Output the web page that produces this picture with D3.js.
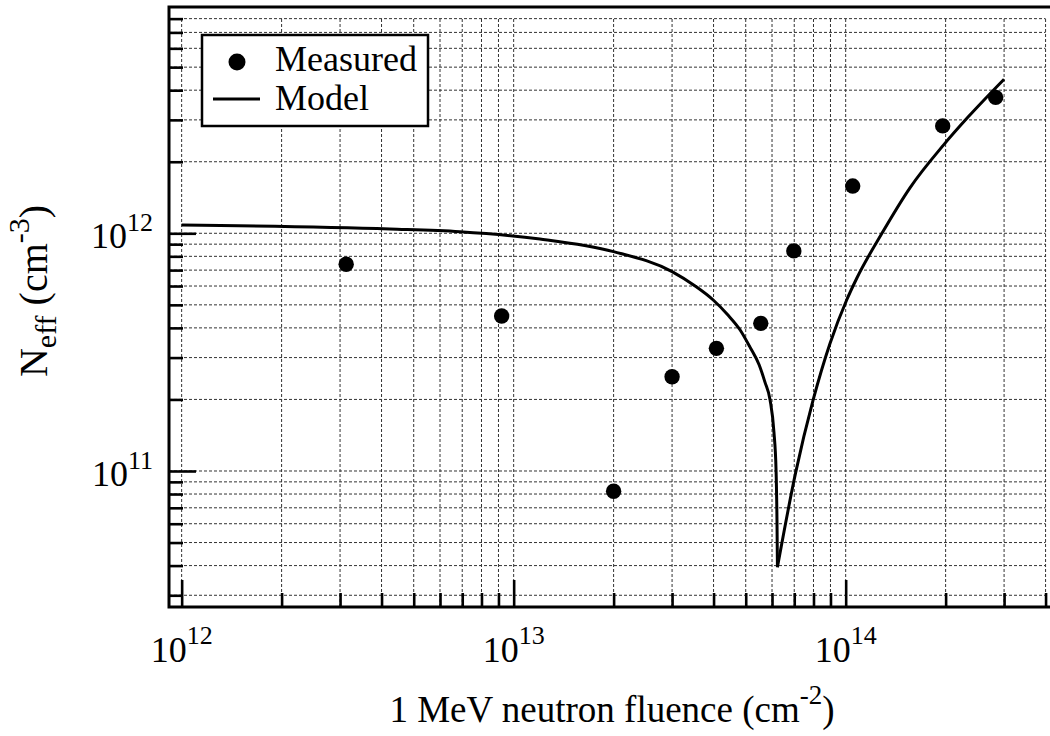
<!DOCTYPE html>
<html>
<head>
<meta charset="utf-8">
<script src="https://cdn.jsdelivr.net/npm/d3@7"></script>
<style>
  body { margin: 0; background: #fff; }
  text { font-family: "Liberation Serif", "DejaVu Serif", serif; fill: #000; }
</style>
</head>
<body>
<div id="content"></div>
<script>
'use strict';
//////////////////// input data
const measuredFluence = [3.13e12, 9.2e12, 2.0e13, 3.0e13, 4.08e13, 5.55e13, 6.98e13, 1.05e14, 1.96e14, 2.83e14];
const measuredNeff    = [7.41e11, 4.49e11, 8.22e10, 2.49e11, 3.28e11, 4.18e11, 8.43e11, 1.58e12, 2.83e12, 3.73e12];

const modelFluence = [1.0e12, 4.24e12, 6.88e12, 1.2e13, 2.0e13, 3.0e13, 3.52e13, 3.99e13, 4.42e13, 4.81e13,
                      5.15e13, 5.49e13, 5.71e13, 5.92e13, 6.08e13, 6.17e13, 6.21e13, 6.23e13,
                      7.06e13, 7.98e13, 8.97e13, 1.007e14, 1.08e14, 1.286e14, 1.56e14, 1.97e14, 2.34e14, 3.0e14];
const modelNeff    = [1.083e12, 1.042e12, 1.015e12, 9.46e11, 8.37e11, 6.9e11, 6.0e11, 5.24e11, 4.53e11, 3.92e11,
                      3.32e11, 2.79e11, 2.37e11, 1.99e11, 1.46e11, 1.01e11, 6.22e10, 3.94e10,
                      9.77e10, 1.99e11, 3.44e11, 5.24e11, 6.47e11, 1.0e12, 1.55e12, 2.35e12, 3.09e12, 4.45e12];

const xDomain = [9.16e11, 4.125e14];
const yDomain = [2.678e10, 8.954e12];
const xMajor = [1e12, 1e13, 1e14];
const yMajor = [1e11, 1e12];
const legendLabels = ['Measured', 'Model'];

const measured = measuredFluence.map((f, i) => ({x: f, y: measuredNeff[i]}));
const model = modelFluence.map((f, i) => ({x: f, y: modelNeff[i]}));
const minIdx = d3.minIndex(modelNeff);

//////////////////// drawing area
const W = 1050, H = 736;
const plot = { left: 169, right: 1050, top: 7, bottom: 607 };

const xScale = d3.scaleLog().domain(xDomain).range([plot.left, plot.right]);
const yScale = d3.scaleLog().domain(yDomain).range([plot.bottom, plot.top]);

const xTicks = xScale.ticks();
const yTicks = yScale.ticks();
const xMinor = xTicks.filter(t => !xMajor.includes(t));
const yMinor = yTicks.filter(t => !yMajor.includes(t));
const exp = v => Math.round(Math.log10(v));

const svg = d3.select('#content')
    .append('svg')
        .attr('width', W)
        .attr('height', H);

svg.append('rect').attr('width', W).attr('height', H).attr('fill', '#fff');

//////////////////// grid
const gridRight = xScale(d3.max(xTicks));
const gridTop = yScale(d3.max(yTicks));

svg.append('g')
    .selectAll('line')
    .data(xTicks)
    .enter().append('line')
        .attr('x1', d => xScale(d)).attr('x2', d => xScale(d))
        .attr('y1', plot.bottom).attr('y2', gridTop)
        .attr('stroke', '#333').attr('stroke-width', 1).attr('stroke-dasharray', '3,2');

svg.append('g')
    .selectAll('line')
    .data(yTicks)
    .enter().append('line')
        .attr('x1', plot.left).attr('x2', gridRight)
        .attr('y1', d => yScale(d)).attr('y2', d => yScale(d))
        .attr('stroke', '#333').attr('stroke-width', 1).attr('stroke-dasharray', '3,2');

//////////////////// ticks (inward)
function tickAxis(axis, values, size, tr) {
    const g = svg.append('g')
        .attr('transform', tr)
        .call(axis.tickValues(values).tickSize(-size).tickFormat(''));
    g.select('.domain').remove();
    g.selectAll('line').attr('stroke', '#000').attr('stroke-width', 2.6);
}
tickAxis(d3.axisBottom(xScale), xMinor, 14, 'translate(0,' + plot.bottom + ')');
tickAxis(d3.axisBottom(xScale), xMajor, 27, 'translate(0,' + plot.bottom + ')');
tickAxis(d3.axisLeft(yScale), yMinor, 14, 'translate(' + plot.left + ',0)');
tickAxis(d3.axisLeft(yScale), yMajor, 27, 'translate(' + plot.left + ',0)');

// frame
svg.append('path')
    .attr('d', 'M' + plot.right + ',' + plot.top + 'H' + plot.left + 'V' + plot.bottom + 'H' + plot.right)
    .attr('fill', 'none').attr('stroke', '#000').attr('stroke-width', 3);

//////////////////// tick labels
const xLab = svg.append('g').selectAll('text')
    .data(xMajor).enter().append('text')
        .attr('x', d => xScale(d)).attr('y', 662)
        .attr('text-anchor', 'middle').attr('font-size', 36);
xLab.append('tspan').text('10');
xLab.append('tspan').attr('dy', -18).attr('font-size', 26).text(d => exp(d));

const yLab = svg.append('g').selectAll('text')
    .data(yMajor).enter().append('text')
        .attr('x', 153).attr('y', d => yScale(d) + 15)
        .attr('text-anchor', 'end').attr('font-size', 36);
yLab.append('tspan').text('10');
yLab.append('tspan').attr('dy', -17).attr('font-size', 26).text(d => exp(d));

//////////////////// axis titles
const xt = svg.append('text')
    .attr('x', 612).attr('y', 722)
    .attr('text-anchor', 'middle').attr('font-size', 37);
xt.append('tspan').text('1 MeV neutron fluence (cm');
xt.append('tspan').attr('dy', -18).attr('font-size', 27).text('-2');
xt.append('tspan').attr('dy', 18).text(')');

const yt = svg.append('text')
    .attr('transform', 'translate(47,291) rotate(-90)')
    .attr('text-anchor', 'middle').attr('font-size', 40);
yt.append('tspan').text('N');
yt.append('tspan').attr('dy', 9).attr('font-size', 30).text('eff');
yt.append('tspan').attr('dy', -9).text(' (cm');
yt.append('tspan').attr('dy', -18).attr('font-size', 30).text('-3');
yt.append('tspan').attr('dy', 18).text(')');

//////////////////// model curve (two branches around the minimum)
const line = d3.line()
    .x(d => xScale(d.x))
    .y(d => yScale(d.y))
    .curve(d3.curveMonotoneX);

[model.slice(0, minIdx + 1), model.slice(minIdx)].forEach(branch => {
    svg.append('path')
        .attr('d', line(branch))
        .attr('fill', 'none').attr('stroke', '#000').attr('stroke-width', 3);
});

//////////////////// measured points
svg.append('g')
    .selectAll('circle')
    .data(measured)
    .enter().append('circle')
        .attr('cx', d => xScale(d.x))
        .attr('cy', d => yScale(d.y))
        .attr('r', 7.7)
        .attr('fill', '#000');

//////////////////// legend
const legend = svg.append('g');
legend.append('rect')
    .attr('x', 202).attr('y', 35).attr('width', 226).attr('height', 91)
    .attr('fill', '#fff').attr('stroke', '#000').attr('stroke-width', 2.5);
legend.append('circle').attr('cx', 237).attr('cy', 62).attr('r', 8.5).attr('fill', '#000');
legend.append('line')
    .attr('x1', 213).attr('x2', 260).attr('y1', 99).attr('y2', 99)
    .attr('stroke', '#000').attr('stroke-width', 3);
legend.selectAll('text.lg')
    .data(legendLabels).enter().append('text')
        .attr('class', 'lg')
        .attr('x', 275).attr('y', (d, i) => 71 + i * 38.5)
        .attr('font-size', 36)
        .text(d => d);
</script>
</body>
</html>
